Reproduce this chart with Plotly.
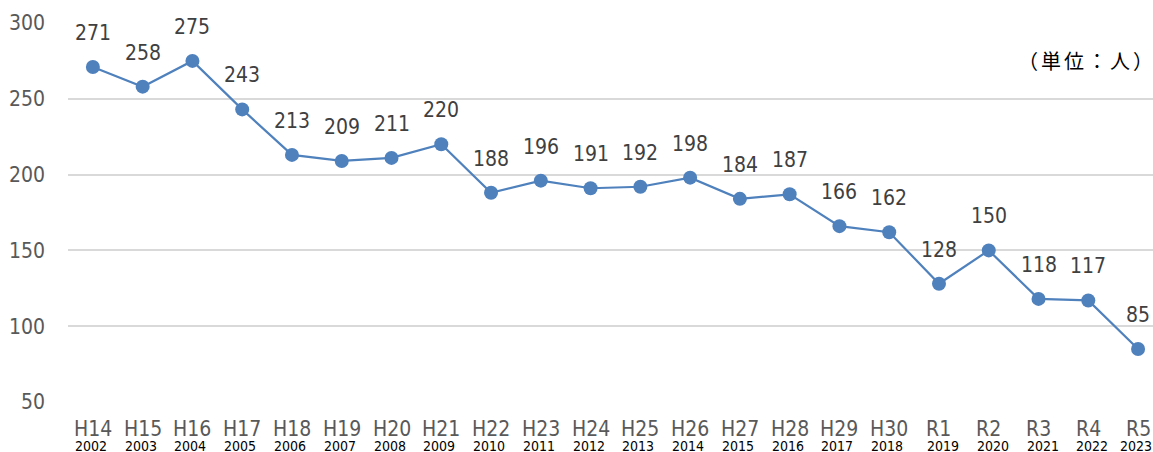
import plotly.graph_objects as go

era = ["H14","H15","H16","H17","H18","H19","H20","H21","H22","H23","H24","H25","H26","H27","H28","H29","H30","R1","R2","R3","R4","R5"]
years = ["2002","2003","2004","2005","2006","2007","2008","2009","2010","2011","2012","2013","2014","2015","2016","2017","2018","2019","2020","2021","2022","2023"]
values = [271,258,275,243,213,209,211,220,188,196,191,192,198,184,187,166,162,128,150,118,117,85]
y_ticks = [50,100,150,200,250,300]

FONT = "DejaVu Sans Condensed, DejaVu Sans"
BLUE = "#4f81bd"

xs = list(range(len(era)))

fig = go.Figure()
fig.add_trace(go.Scatter(
    x=xs, y=values, mode="lines+markers",
    line=dict(color=BLUE, width=2.2),
    marker=dict(color=BLUE, size=14),
    hoverinfo="skip", showlegend=False,
))

annotations = []
for x, v in zip(xs, values):
    annotations.append(dict(x=x, y=v, text=str(v), showarrow=False, yshift=34,
                            font=dict(family=FONT, size=21, color="#404040")))
for x, e, yr in zip(xs, era, years):
    annotations.append(dict(x=x, y=0, yref="paper", text=e, showarrow=False,
                            yanchor="middle", yshift=-27,
                            font=dict(family=FONT, size=21, color="#595959")))
    annotations.append(dict(x=x, y=0, yref="paper", text=yr, showarrow=False,
                            yanchor="middle", yshift=-44,
                            xshift=4 if e.startswith("R") and e != "R5" else -2,
                            font=dict(family=FONT, size=14, color="#000000")))
annotations.append(dict(
    xref="paper", yref="paper", x=1.0, y=0.900, xanchor="right", yanchor="middle",
    xshift=-4,
    text="（単位：人）", showarrow=False,
    font=dict(family="Noto Sans CJK JP", size=20, color="#000000"),
))

fig.update_layout(
    template="none",
    width=1153, height=452,
    margin=dict(l=68, r=0, t=23, b=50),
    paper_bgcolor="white", plot_bgcolor="white",
    annotations=annotations,
    xaxis=dict(
        range=[-0.5, 21.3], showgrid=False, zeroline=False, showline=False,
        showticklabels=False, ticks="", automargin=False,
    ),
    yaxis=dict(
        range=[50, 300], tickmode="array", tickvals=y_ticks,
        showgrid=True, gridcolor="#d9d9d9", gridwidth=1.5,
        zeroline=False, showline=False, ticks="", automargin=False,
        tickfont=dict(family=FONT, size=21, color="#595959"),
        ticklabelstandoff=22,
    ),
)

fig.write_html(
    "out.html",
    config={"displayModeBar": False},
    post_script=(
        "document.body.style.margin='0';document.body.style.overflow='hidden';"
        "document.querySelectorAll('text').forEach(function(t){"
        "if(t.textContent.indexOf('\u5358\u4f4d')>=0){t.style.letterSpacing='3px';}});"
    ),
)
